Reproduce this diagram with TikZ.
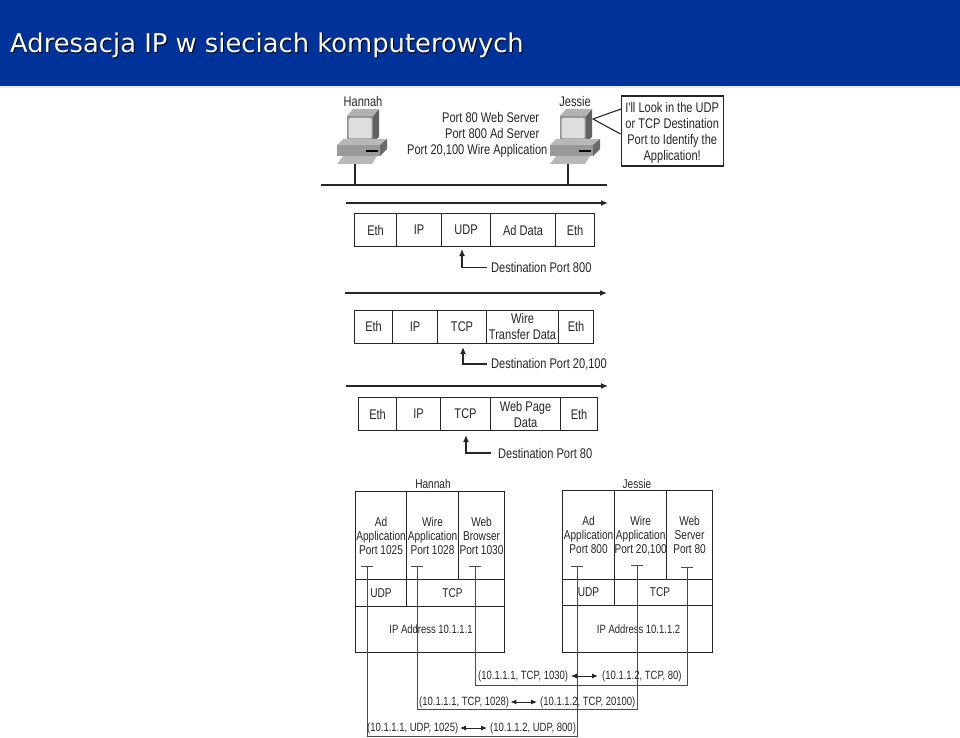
\documentclass[tikz,border=0pt]{standalone}
\usepackage{fontspec}
\setmainfont{Liberation Sans}
\newfontfamily\titlefont{DejaVu Sans}
\newfontfamily\diagfont[FakeStretch=0.79]{Liberation Sans}
\usetikzlibrary{arrows.meta,calc}
\definecolor{barblue}{HTML}{003399}
\definecolor{ink}{HTML}{262626}
\definecolor{stem}{HTML}{4A4A4A}
\tikzset{
  diag/.style={font=\diagfont\fontsize{14}{16}\selectfont,text=ink,inner sep=0pt},
  cell/.style={diag,draw=ink,line width=1.1pt,anchor=north west,align=center,inner sep=0pt,line cap=rect},
  small/.style={font=\diagfont\fontsize{12.8}{14}\selectfont},
  tuple/.style={font=\diagfont\fontsize{12}{14}\selectfont},
  wire/.style={draw=ink,line width=1.1pt},
  socket/.style={draw=stem,line width=0.9pt},
  flow/.style={draw=ink,line width=1.3pt,-{Latex[length=7pt,width=6pt]}},
  dual/.style={draw=ink,line width=1pt,{Latex[length=6pt,width=5pt]}-{Latex[length=6pt,width=5pt]}},
  pics/computer/.style={code={
    % monitor: origin is the top-centre of the screen face
    \fill[black!62] (13,0) -- (19,-7) -- (19,21) -- (13,26) -- cycle;
    \fill[black!30] (-13,0) -- (-7,-7) -- (19,-7) -- (13,0) -- cycle;
    \fill[black!42] (-13,0) rectangle (13,26);
    \fill[black!13,rounded corners=1.5pt] (-11.5,2) rectangle (11.5,22.5);
    \draw[black!75,line width=.8pt] (-12,25) -- (12,25);
    % base
    \fill[black!28] (-23,29) -- (-17,23) -- (27,23) -- (20,29) -- cycle;
    \fill[black!58] (20,29) -- (27,23) -- (27,33) -- (20,40) -- cycle;
    \fill[black!40] (-23,29) rectangle (20,40);
    \draw[black,line width=1.2pt] (6,35) -- (18,35);
    % keyboard
    \fill[black!28] (-17,40) -- (17,40) -- (12,48) -- (-23,48) -- cycle;
  }}
}
\begin{document}
\begin{tikzpicture}[x=1pt,y=-1pt]
\useasboundingbox (0,0) rectangle (960,738);
\fill[white] (0,0) rectangle (960,738);
\fill[barblue] (0,0) rectangle (960,86);
\fill[blue!8] (0,86) rectangle (960,88);
\node[anchor=base west,inner sep=0pt,text=black,font=\titlefont\fontsize{25.8}{30}\selectfont] (titleshadow) at (11,54) {Adresacja IP w sieciach komputerowych};
\node[anchor=base west,inner sep=0pt,text=white,font=\titlefont\fontsize{25.8}{30}\selectfont] (title) at (10,53) {Adresacja IP w sieciach komputerowych};

% hosts
\pic at (360,116) {computer};
\pic at (573,116) {computer};
\node[diag] (hannah) at (363,101) {Hannah};
\node[diag] (jessie) at (575,101) {Jessie};
\coordinate (busL) at (321,185);
\coordinate (busR) at (607,185);
\draw[wire,line width=1.3pt] (busL) -- (busR);
\coordinate (hstem) at (355,164); \coordinate (hbus) at (355,185);
\coordinate (jstem) at (568,164); \coordinate (jbus) at (568,185);
\draw[wire] (hstem) -- (hbus);
\draw[wire] (jstem) -- (jbus);
\node[diag,align=left,anchor=west] (ports) at (407,135) {\hspace*{35pt}Port 80 Web Server\\\hspace*{38pt}Port 800 Ad Server\\Port 20,100 Wire Application};
\node[cell,line width=1.4pt,minimum width=102pt,minimum height=70pt,fill=white] (bubble) at (620.5,95.5) {\rule{0pt}{13pt}I'll Look in the UDP\\or TCP Destination\\Port to Identify the\\Application!};
\coordinate (bubA) at (621,109); \coordinate (bubB) at (620.5,134); \coordinate (bubT) at (593,119);
\draw[wire] (bubA) -- (bubT) -- (bubB);

% packet 1
\coordinate (a1L) at (346,203); \coordinate (a1R) at (608,203);
\draw[flow] (a1L) -- (a1R);
\node[cell,minimum width=42pt,minimum height=33pt] (p1a) at (354,213) {Eth};
\node[cell,minimum width=45pt,minimum height=33pt] (p1b) at (396,213) {IP};
\node[cell,minimum width=49pt,minimum height=33pt] (p1c) at (441,213) {UDP};
\node[cell,minimum width=65pt,minimum height=33pt] (p1d) at (490,213) {Ad Data};
\node[cell,minimum width=39pt,minimum height=33pt] (p1e) at (555,213) {Eth};
\node[diag,anchor=west] (d1) at (491,267.5) {Destination Port 800};
\coordinate (d1k) at (462,267.5); \coordinate (d1t) at (462,249);
\draw[flow] ($(d1.west)+(-4,0)$) -- (d1k) -- (d1t);

% packet 2
\coordinate (a2L) at (345,293); \coordinate (a2R) at (607,293);
\draw[flow] (a2L) -- (a2R);
\node[cell,minimum width=38pt,minimum height=33pt] (p2a) at (354,309.5) {Eth};
\node[cell,minimum width=45pt,minimum height=33pt] (p2b) at (392,309.5) {IP};
\node[cell,minimum width=49pt,minimum height=33pt] (p2c) at (437,309.5) {TCP};
\node[cell,minimum width=72pt,minimum height=33pt] (p2d) at (486,309.5) {Wire\\Transfer Data};
\node[cell,minimum width=35pt,minimum height=33pt] (p2e) at (558,309.5) {Eth};
\node[diag,anchor=west] (d2) at (491,364) {Destination Port 20,100};
\coordinate (d2k) at (463,364); \coordinate (d2t) at (463,347);
\draw[flow] ($(d2.west)+(-4,0)$) -- (d2k) -- (d2t);

% packet 3
\coordinate (a3L) at (346,386); \coordinate (a3R) at (608,386);
\draw[flow] (a3L) -- (a3R);
\node[cell,minimum width=38pt,minimum height=33pt] (p3a) at (358,397) {Eth};
\node[cell,minimum width=44pt,minimum height=33pt] (p3b) at (396,397) {IP};
\node[cell,minimum width=50pt,minimum height=33pt] (p3c) at (440,397) {TCP};
\node[cell,minimum width=70pt,minimum height=33pt] (p3d) at (490,397) {Web Page\\Data};
\node[cell,minimum width=37pt,minimum height=33pt] (p3e) at (560,397) {Eth};
\node[diag,anchor=west] (d3) at (498,453) {Destination Port 80};
\coordinate (d3k) at (466,453); \coordinate (d3t) at (466,435);
\draw[flow] ($(d3.west)+(-7,0)$) -- (d3k) -- (d3t);

% Hannah stack
\node[diag,small] (hs) at (433,483.5) {Hannah};
\node[cell,small,minimum width=51pt,minimum height=88pt] (h1) at (355,491) {Ad\\Application\\Port 1025};
\node[cell,small,minimum width=52pt,minimum height=88pt] (h2) at (406,491) {Wire\\Application\\Port 1028};
\node[cell,small,minimum width=46pt,minimum height=88pt] (h3) at (458,491) {Web\\Browser\\Port 1030};
\node[cell,small,minimum width=51pt,minimum height=27pt] (h4) at (355,579) {UDP};
\node[cell,small,minimum width=98pt,minimum height=27pt] (h5) at (406,579) {TCP\hspace*{6pt}};
\node[cell,tuple,minimum width=149pt,minimum height=46pt] (h6) at (355,606) {\hspace*{2pt}IP Address 10.1.1.1};

% Jessie stack
\node[diag,small] (js) at (637,483.5) {Jessie};
\node[cell,small,minimum width=52pt,minimum height=88.5pt] (j1) at (562,490) {Ad\\Application\\Port 800};
\node[cell,small,minimum width=52pt,minimum height=88.5pt,text depth=0pt] (j2) at (614,490) {Wire\\Application\\Port 20,100};
\node[cell,small,minimum width=46pt,minimum height=88.5pt] (j3) at (666,490) {Web\\Server\\Port 80};
\node[cell,small,minimum width=52pt,minimum height=26.5pt] (j4) at (562,578.5) {UDP};
\node[cell,small,minimum width=98pt,minimum height=26.5pt] (j5) at (614,578.5) {TCP\hspace*{7pt}};
\node[cell,tuple,minimum width=150pt,minimum height=47pt] (j6) at (562,605) {\hspace*{2pt}IP Address 10.1.1.2};

% sockets
\foreach \n/\x/\y/\b in {ha/367/566/736,hb/417/566/709,hc/475/566/685,ja/577/566/736,jb/637/565/709,jc/687/567/685}{
  \coordinate (\n) at (\x,\y);
  \coordinate (\n-l) at (\x-6,\y);
  \coordinate (\n-r) at (\x+6,\y);
  \coordinate (\n-d) at (\x,\b);
  \draw[socket] (\n-l) -- (\n-r);
}
\draw[socket] (hc) -- (hc-d) -- (jc-d) -- (jc);
\draw[socket] (hb) -- (hb-d) -- (jb-d) -- (jb);
\draw[socket] (ha) -- (ha-d) -- (ja-d) -- (ja);

% tuples
\node[diag,tuple,anchor=west] (t1a) at (478,676) {(10.1.1.1, TCP, 1030)};
\node[diag,tuple,anchor=west] (t1b) at (602,676) {(10.1.1.2, TCP, 80)};
\draw[dual] ($(t1a.east)+(2.5,0)$) -- ($(t1b.west)+(-4,0)$);
\node[diag,tuple,anchor=west] (t2a) at (419,702) {(10.1.1.1, TCP, 1028)};
\node[diag,tuple,anchor=west] (t2b) at (540,702) {(10.1.1.2, TCP, 20100)};
\draw[dual] ($(t2a.east)+(1,0)$) -- ($(t2b.west)+(-3,0)$);
\node[diag,tuple,anchor=west] (t3a) at (367,728) {(10.1.1.1, UDP, 1025)};
\node[diag,tuple,anchor=west] (t3b) at (490,728) {(10.1.1.2, UDP, 800)};
\draw[dual] ($(t3a.east)+(1.5,0)$) -- ($(t3b.west)+(-3,0)$);
\end{tikzpicture}
\end{document}
